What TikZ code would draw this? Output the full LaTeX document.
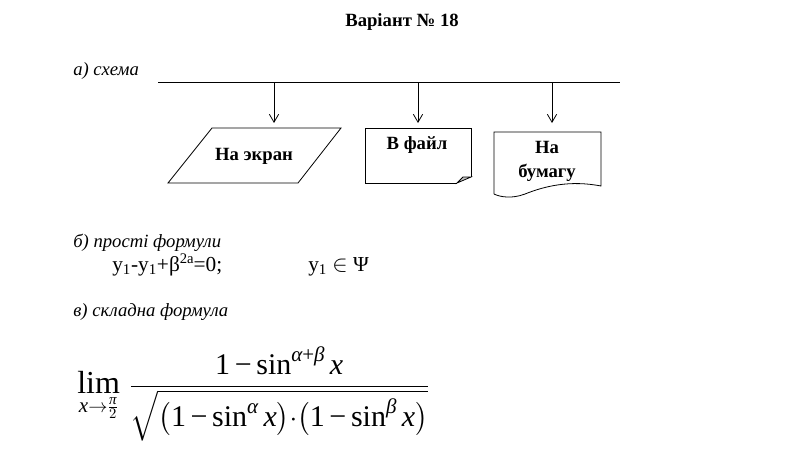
\documentclass[tikz,border=0pt]{standalone}
\usepackage{amsmath}
\usepackage{fontspec}
\setmainfont{Liberation Serif}
\usepackage{tikz}
\usetikzlibrary{arrows.meta, positioning}

\newcommand{\vx}{\text{\itshape x}}
\newcommand{\va}{\text{\itshape α}}
\newcommand{\vb}{\text{\itshape β}}
\newcommand{\vpi}{\text{\itshape π}}
\newcommand{\one}{\text{1}}
\newcommand{\mn}{\mathbin{\text{−}}}
\newcommand{\pl}{\mathbin{\text{+}}}
\newcommand{\fsin}{\mathop{\text{sin}}\nolimits}
\newcommand{\flim}{\mathop{\text{\fontsize{24}{28}\selectfont lim}}}
\newcommand{\supr}[1]{\raisebox{6pt}{\fontsize{11}{12}\selectfont #1}}

\begin{document}
\begin{tikzpicture}[
  x=0.75pt, y=-0.75pt,
  lbl/.style={anchor=base west, inner sep=0pt, font=\itshape\fontsize{14}{16}\selectfont},
  txt/.style={anchor=base west, inner sep=0pt, font=\fontsize{16}{18}\selectfont},
  boxtext/.style={align=center, inner sep=0pt, font=\bfseries\fontsize{14}{18}\selectfont},
  outline/.style={draw, line width=0.6pt},
  arrow/.style={-{Straight Barb[length=6pt, width=7pt]}, line width=0.6pt}
]
  \useasboundingbox (0,0) rectangle (787,455);

  % Title
  \node[anchor=base, inner sep=0pt, font=\bfseries\fontsize{14}{16}\selectfont] (title) at (402,26) {Варіант № 18};

  % a) scheme
  \node[lbl] (scheme) at (73,75) {а) схема};
  \coordinate (busL) at (158,82);
  \coordinate (busR) at (620,82);
  \draw[line width=0.6pt] (busL) -- (busR);

  % Screen
  \node[boxtext] (screen) at (254,156) {На экран};
  \draw[outline] (212,128) -- (341,128) -- (298,183) -- (168,183) -- cycle;

  % File
  \node[boxtext] (file) at (417,145) {В файл};
  \draw[outline] (471,177) -- (471,128) -- (365,128) -- (365,183) -- (457,183);
  \draw[outline, fill=gray!45] (457,183) -- (471,177) -- (463,177) -- cycle;

  % Paper
  \node[boxtext] (paper) at (547,161) {На\\бумагу};
  \draw[outline] (494,194) -- (494,132) -- (601,132) -- (601,186)
    .. controls (570,180) and (545,186) .. (525,194)
    .. controls (512,199) and (500,197) .. (494,194);

  % bus to outputs
  \coordinate (b1) at (274,82);
  \coordinate (b2) at (418,82);
  \coordinate (b3) at (552,82);
  \coordinate (e1) at (274,123);
  \coordinate (e2) at (418,123);
  \coordinate (e3) at (552,123);
  \draw[arrow] (b1) -- (e1);
  \draw[arrow] (b2) -- (e2);
  \draw[arrow] (b3) -- (e3);

  % b) simple formulas
  \node[lbl] (simple) at (73,247) {б) прості формули};
  \node[txt] (eq1) at (112,271) {y\textsubscript{1}-y\textsubscript{1}+β\supr{2a}=0;};
  \node[txt] (eq2) at (308,271) {y\textsubscript{1} $\in$ Ψ};

  % c) complex formula
  \node[lbl] (complex) at (73,316) {в) складна формула};
  \node[anchor=west, inner sep=0pt, font=\fontsize{22.5}{27}\selectfont] (limit) at (77,394)
    {\medmuskip=3mu $\displaystyle \flim_{\vx\to\frac{\vpi}{2}}\, \frac{\one\mn\fsin^{\va\pl\vb}\vx}{\sqrt{\bigl(\one\mn\fsin^{\va}\vx\bigr){\cdot}\bigl(\one\mn\fsin^{\vb}\vx\bigr)}}$};
\end{tikzpicture}
\end{document}
